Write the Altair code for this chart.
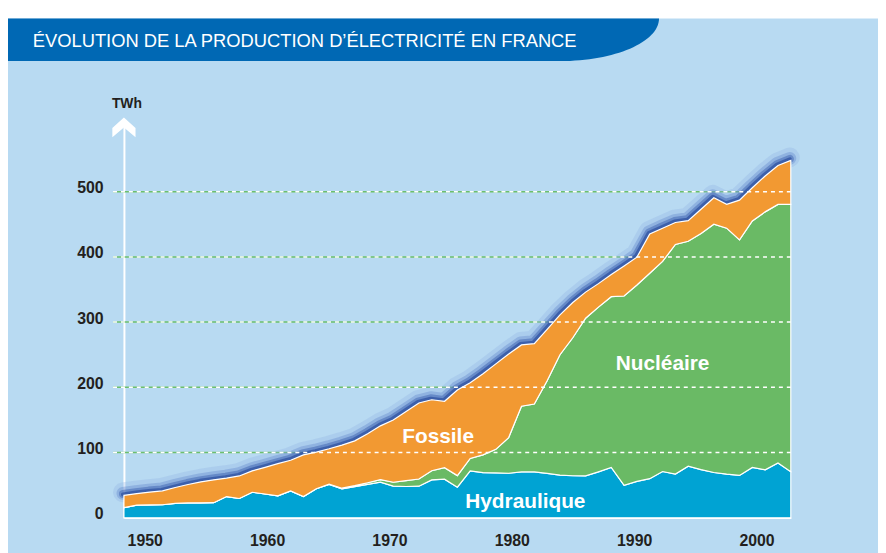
import altair as alt
import pandas as pd

# ---------------- data ----------------
years = list(range(1950, 2003))
hydro = [15.5, 19.4, 19.7, 20.0, 22.0, 22.8, 23.0, 23.2, 32.6, 29.6,
         39.2, 36.5, 33.7, 41.3, 32.5, 44.5, 51.0, 44.4, 47.8, 51.2,
         54.6, 48.5, 48.0, 48.5, 58.2, 59.2, 47.0, 71.8, 69.3, 68.8,
         68.3, 70.3, 70.3, 68.0, 65.5, 64.5, 64.2, 70.5, 77.2, 49.8,
         55.8, 60.0, 71.0, 67.0, 79.2, 73.9, 69.5, 67.0, 65.0, 77.2,
         73.6, 84.0, 70.8]
nuclear = [0, 0, 0, 0, 0, 0, 0, 0, 0, 0,
           0, 0, 0, 0, 0, 0, 0.5, 1.0, 1.5, 2.5,
           4.0, 6.0, 9.0, 11.0, 14.0, 17.7, 17.7, 19.2, 27.2, 36.2,
           54.7, 100.7, 104.2, 142.0, 184.5, 211.5, 241.8, 252.5, 261.8, 290.2,
           301.2, 315.0, 322.0, 352.0, 344.8, 362.0, 380.5, 377.0, 361.0, 377.8,
           395.4, 396.5, 409.7]
fossil = [18.9, 17.8, 19.8, 21.3, 24.4, 28.3, 32.2, 35.0, 28.2, 34.6,
          32.8, 40.9, 49.3, 47.0, 64.0, 56.2, 54.3, 66.1, 68.7, 75.3,
          82.4, 95.5, 106.0, 116.5, 108.8, 101.7, 131.3, 116.0, 124.5, 131.0,
          128.0, 94.0, 92.5, 79.0, 61.0, 54.0, 40.0, 36.0, 34.0, 46.0,
          42.6, 60.0, 51.0, 33.7, 31.5, 37.1, 40.6, 36.6, 61.0, 51.0,
          55.0, 59.5, 67.5]

sources = ["Hydraulique", "Nucléaire", "Fossile"]
source_colors = ["#00a3d3", "#6aba65", "#f29932"]

y_ticks = [0, 100, 200, 300, 400, 500]
grid_values = [100, 200, 300, 400, 500]
x_ticks = [1950, 1960, 1970, 1980, 1990, 2000]

title_text = "ÉVOLUTION DE LA PRODUCTION D’ÉLECTRICITÉ EN FRANCE"
unit_text = "TWh"

label_names = ["Nucléaire", "Fossile", "Hydraulique"]
label_years = [1992.0, 1974.5, 1981.3]
label_values = [235.5, 124.5, 24.5]

# ---------------- layout / style ----------------
W, H = 673, 395
PAD = {"left": 117, "top": 117, "right": 88, "bottom": 33}
BG = "#b8daf2"
BANNER = "#0068b4"
TEXT = "#231f20"
FONT = "Liberation Sans, Arial, Helvetica, sans-serif"

BANNER_PATH = "M0,0 L657,0 A100,43 0 0 1 557,43 L0,43 Z"
ARROW_PATH = "M0,0 L11.7,10.7 L11.7,20 L0,10 L-11.7,20 L-11.7,10.7 Z"

# ---------------- tables ----------------
rows = []
for i, y in enumerate(years):
    for k, (name, arr) in enumerate(zip(sources, [hydro, nuclear, fossil])):
        rows.append({"year": y, "source": name, "value": arr[i], "ord": k})
long_df = pd.DataFrame(rows)
one = pd.DataFrame({"t": [title_text], "u": [unit_text]})
grid_df = pd.DataFrame({"v": grid_values})
lab_df = pd.DataFrame({"label": label_names, "year": label_years, "value": label_values})
xt_df = pd.DataFrame({"yr": x_ticks})

xs_data = alt.Scale(domain=[1950, 2002], nice=False, zero=False)
ys = alt.Scale(domain=[0, 600], nice=False, zero=True)
yaxis = alt.Axis(values=y_ticks, title=None, grid=False, ticks=False,
                 domain=True, domainColor="white", domainWidth=2,
                 labelFont=FONT, labelFontSize=16, labelFontWeight="bold",
                 labelColor=TEXT, labelPadding=21, labelOffset=-4)

strip = alt.Chart(one).mark_rect(color="white").encode(
    x=alt.value(-130), x2=alt.value(W + 100), y=alt.value(-135), y2=alt.value(-109))

banner = alt.Chart(one).mark_point(
    shape=BANNER_PATH, size=4, filled=True, color=BANNER, opacity=1, strokeWidth=0
).encode(x=alt.value(-117), y=alt.value(-109))

title = alt.Chart(one).mark_text(
    align="left", baseline="middle", font=FONT, fontSize=18.5, color="white"
).encode(x=alt.value(-92), y=alt.value(-86), text="t:N")

grid_green = alt.Chart(grid_df).mark_rule(color="#6dbf6c", strokeWidth=1.5).encode(
    y=alt.Y("v:Q", scale=ys, axis=yaxis), x=alt.value(-11), x2=alt.value(W))

shadows = []
for c, w, o, dy in [("#8fb0e0", 20, 0.3, -3), ("#5d82c8", 13, 0.35, -2),
                    ("#3d62b0", 8, 0.5, -1.5), ("#2c4f9e", 4, 0.7, -1)]:
    shadows.append(
        alt.Chart(long_df)
        .transform_aggregate(total="sum(value)", groupby=["year"])
        .mark_line(color=c, strokeWidth=w, opacity=o, yOffset=dy, xOffset=-1,
                   strokeJoin="round", strokeCap="round")
        .encode(x=alt.X("year:Q", scale=xs_data, axis=None),
                y=alt.Y("total:Q", scale=ys, axis=yaxis))
    )

areas = alt.Chart(long_df).mark_area(stroke="white", strokeWidth=1.2, opacity=1).encode(
    x=alt.X("year:Q", scale=xs_data, axis=None),
    y=alt.Y("value:Q", scale=ys, axis=yaxis, stack="zero"),
    color=alt.Color("source:N", scale=alt.Scale(domain=sources, range=source_colors), legend=None),
    order=alt.Order("ord:Q"),
)

grid_white = alt.Chart(grid_df).mark_rule(color="white", strokeWidth=1.5, strokeDash=[4, 4]).encode(
    y=alt.Y("v:Q", scale=ys, axis=yaxis), x=alt.value(-11), x2=alt.value(W))

labels = alt.Chart(lab_df).mark_text(
    align="center", baseline="middle", font=FONT, fontSize=21, fontWeight="bold", color="white"
).encode(x=alt.X("year:Q", scale=xs_data, axis=None),
         y=alt.Y("value:Q", scale=ys, axis=yaxis), text="label:N")

unit = alt.Chart(one).mark_text(
    align="center", baseline="middle", font=FONT, fontSize=14, fontWeight="bold", color=TEXT
).encode(x=alt.value(3), y=alt.value(-23), text="u:N")

arrow = alt.Chart(one).mark_point(
    shape=ARROW_PATH, size=4, filled=True, color="white", opacity=1, strokeWidth=0
).encode(x=alt.value(0), y=alt.value(-9))

xaxis_layer = alt.Chart(xt_df).mark_rule(opacity=0).encode(
    x=alt.X("yr:Q", scale=alt.Scale(domain=[1948.3, 2002.8], nice=False, zero=False),
            axis=alt.Axis(orient="bottom", values=x_ticks, format="d", title=None,
                          grid=False, ticks=False, domainColor="white", domainWidth=1.5,
                          labelFont=FONT, labelFontSize=16, labelFontWeight="bold",
                          labelColor=TEXT, labelPadding=15))
)

chart = alt.layer(
    strip, banner, title, grid_green, *shadows, areas, grid_white, labels, unit, arrow, xaxis_layer
).resolve_scale(x="independent").properties(
    width=W, height=H,
    autosize=alt.AutoSizeParams(type="none"),
    padding=PAD,
    background=BG,
).configure_view(strokeWidth=0)

chart.save("out.html", embed_options={"renderer": "svg", "actions": False})
